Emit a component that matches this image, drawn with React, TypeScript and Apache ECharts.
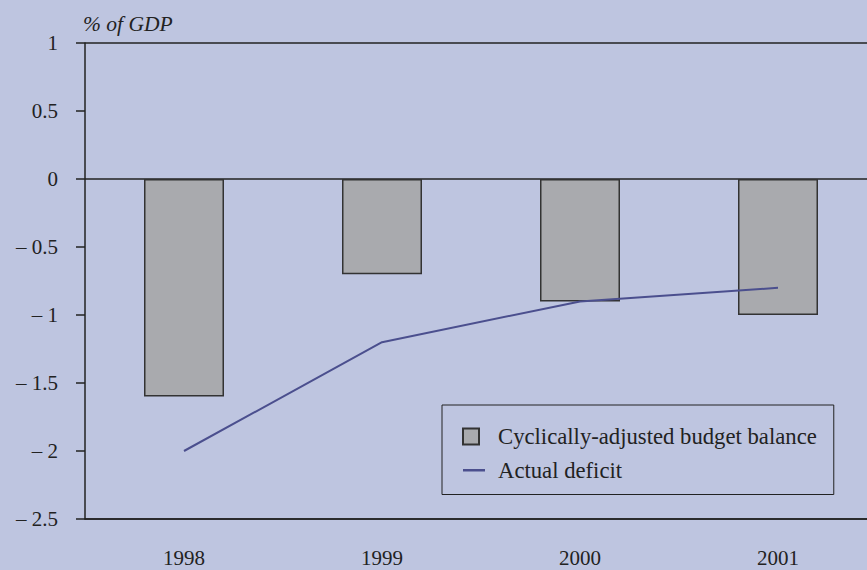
import React, { useEffect, useRef } from "react";
import * as echarts from "echarts";

const years = ["1998", "1999", "2000", "2001"];
const cyclicallyAdjusted = [-1.6, -0.7, -0.9, -1.0];
const actualDeficit = [-2.0, -1.2, -0.9, -0.8];
const yTicks = [-2.5, -2, -1.5, -1, -0.5, 0, 0.5, 1];

const FONT = "Liberation Serif, Times New Roman, serif";
const INK = "#222222";

export default function App() {
  const ref = useRef<HTMLDivElement>(null);
  useEffect(() => {
    if (!ref.current) return;
    const chart = echarts.init(ref.current, undefined, { renderer: "svg" });
    const splitColors = yTicks.map((v) => (v === 0 || v === 1 || v === -2.5 ? INK : "rgba(0,0,0,0)"));
    chart.setOption({
      animation: false,
      backgroundColor: "#BEC5E0",
      textStyle: { fontFamily: FONT, color: INK },
      title: {
        text: "% of GDP",
        left: 78,
        top: 8,
        textStyle: { fontFamily: FONT, fontStyle: "italic", fontWeight: "normal", fontSize: 21.5, color: INK },
      },
      grid: { left: 85, top: 43, bottom: 51, right: 0 },
      legend: {
        orient: "vertical",
        left: 442,
        top: 405,
        padding: [20, 17, 13, 11],
        borderColor: INK,
        borderWidth: 1,
        itemWidth: 39,
        itemHeight: 16,
        itemGap: 10.5,
        symbolKeepAspect: true,
        textStyle: { fontFamily: FONT, fontSize: 22.7, color: INK },
        data: [
          { name: "Cyclically-adjusted budget balance", icon: "path://M0,0 M39,16 M9,0h16v16h-16z" },
          { name: "Actual deficit", icon: "path://M0,0 M39,16 M9,7h22v2.5h-22z" },
        ],
      },
      xAxis: {
        type: "category",
        data: years,
        axisLine: { onZero: false, lineStyle: { color: INK, width: 1.5 } },
        axisTick: { show: false },
        axisLabel: { fontFamily: FONT, fontSize: 21, color: INK, margin: 28 },
      },
      yAxis: {
        type: "value",
        min: -2.5,
        max: 1,
        interval: 0.5,
        axisLine: { show: true, lineStyle: { color: INK, width: 1.5 } },
        axisTick: { show: true, length: 9, lineStyle: { color: INK, width: 1.5 } },
        splitLine: { show: true, lineStyle: { color: splitColors, width: 1.5 } },
        axisLabel: {
          fontFamily: FONT,
          fontSize: 21,
          color: INK,
          margin: 27,
          formatter: (v: number) => (v < 0 ? "\u2013 " + String(Math.abs(v)) : String(v)),
        },
      },
      series: [
        {
          name: "Cyclically-adjusted budget balance",
          type: "bar",
          data: cyclicallyAdjusted,
          barWidth: 80,
          itemStyle: { color: "#A9AAAE", borderColor: "#333333", borderWidth: 1.5 },
        },
        {
          name: "Actual deficit",
          type: "line",
          data: actualDeficit,
          symbol: "none",
          lineStyle: { color: "#4B4F8E", width: 2 },
          itemStyle: { color: "#4B4F8E" },
        },
      ],
    });
    return () => chart.dispose();
  }, []);
  return (
    <div style={{ width: 867, height: 570, position: "fixed", left: 0, top: 0, overflow: "hidden" }}>
      <div ref={ref} style={{ width: 877, height: 570 }} />
    </div>
  );
}
